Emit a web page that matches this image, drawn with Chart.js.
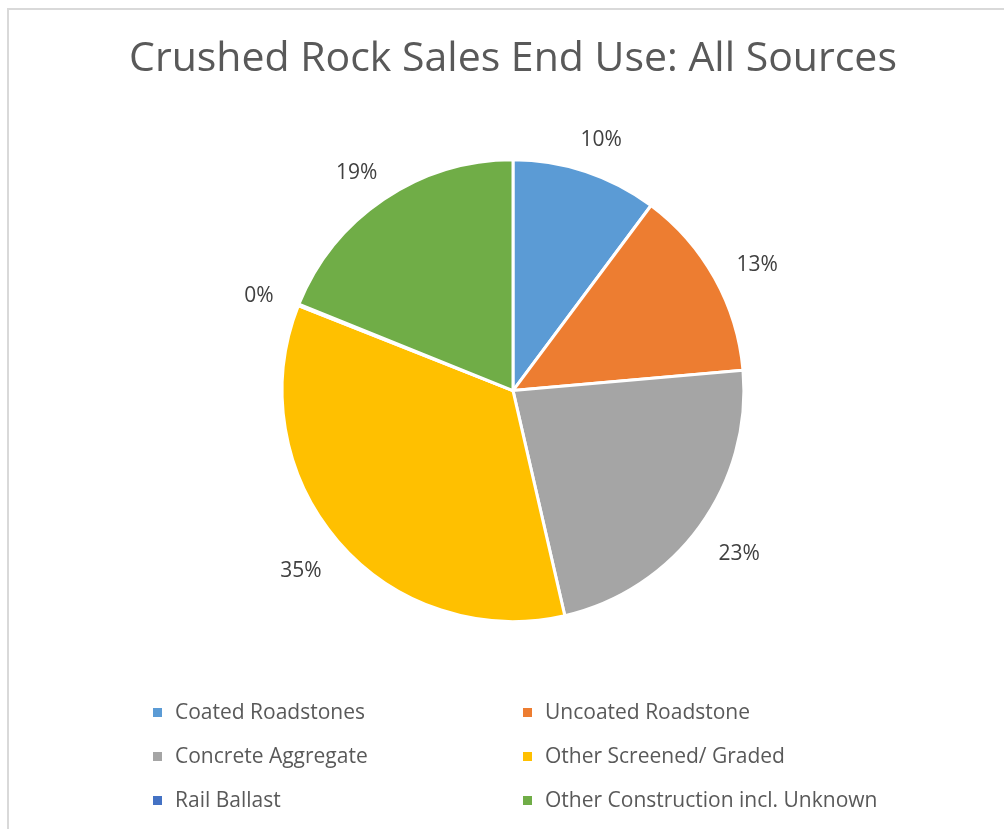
<!DOCTYPE html>
<html>
<head>
<meta charset="utf-8">
<script src="https://cdn.jsdelivr.net/npm/chart.js@4.4.1/dist/chart.umd.min.js"></script>
<style>
  html, body { margin: 0; padding: 0; background: #fff; }
  #wrap { width: 1004px; height: 829px; }
</style>
</head>
<body>
<div id="wrap"><canvas id="myChart" width="1004" height="829"></canvas></div>
<script>
const categories = ['Coated Roadstones', 'Uncoated Roadstone', 'Concrete Aggregate', 'Other Screened/ Graded', 'Rail Ballast', 'Other Construction incl. Unknown'];
const shares = [10.2, 13.4, 22.8, 34.6, 0.1, 18.9];
const colors = ['#5B9BD5', '#ED7D31', '#A5A5A5', '#FFC000', '#4472C4', '#70AD47'];

// frame line of the chart box (top + left edge only visible)
const frame = {
    id: 'frame',
    beforeDraw(chart) {
        const ctx = chart.ctx;
        ctx.save();
        ctx.strokeStyle = '#d9d9d9';
        ctx.lineWidth = 2;
        ctx.beginPath();
        ctx.moveTo(8, 900);
        ctx.lineTo(8, 9);
        ctx.lineTo(1010, 9);
        ctx.stroke();
        ctx.restore();
    }
};

// percent labels outside each slice, text box pushed out from the rim
const outLabels = {
    id: 'outLabels',
    afterDatasetsDraw(chart) {
        const ctx = chart.ctx;
        const meta = chart.getDatasetMeta(0);
        const total = shares.reduce((a, b) => a + b, 0);
        ctx.save();
        ctx.font = '21px "Open Sans", sans-serif';
        ctx.fillStyle = '#404040';
        ctx.textAlign = 'center';
        ctx.textBaseline = 'middle';
        meta.data.forEach((arc, i) => {
            const p = arc.getProps(['x', 'y', 'startAngle', 'endAngle', 'outerRadius'], true);
            const mid = (p.startAngle + p.endAngle) / 2;
            const cx = Math.cos(mid), cy = Math.sin(mid);
            const r = p.outerRadius + 28;
            const txt = Math.round(shares[i] / total * 100) + '%';
            const hw = ctx.measureText(txt).width / 2;
            ctx.fillText(txt, p.x + cx * r + cx * hw, p.y + cy * r + cy * 10 + 5);
        });
        ctx.restore();
    }
};

// two-column legend under the pie
const gridLegend = {
    id: 'gridLegend',
    afterDraw(chart) {
        const ctx = chart.ctx;
        const colX = [153, 523];
        const rowY = [713, 757, 801];
        ctx.save();
        ctx.font = '21px "Open Sans", sans-serif';
        ctx.textBaseline = 'middle';
        categories.forEach((name, i) => {
            const x = colX[i % 2];
            const y = rowY[Math.floor(i / 2)];
            ctx.fillStyle = colors[i];
            ctx.fillRect(x, y - 5, 9, 9);
            ctx.fillStyle = '#595959';
            ctx.fillText(name, x + 22, y);
        });
        ctx.restore();
    }
};

new Chart(document.getElementById('myChart'), {
    type: 'pie',
    data: {
        labels: categories,
        datasets: [{
            data: shares,
            backgroundColor: colors,
            borderColor: '#ffffff',
            borderWidth: 3,
        }],
    },
    options: {
        responsive: false,
        animation: false,
        layout: {
            padding: { left: 22, right: 0, top: 35, bottom: 206 },
        },
        plugins: {
            legend: { display: false },
            tooltip: { enabled: false },
            title: {
                display: true,
                text: 'Crushed Rock Sales End Use: All Sources',
                color: '#595959',
                font: { family: '"Open Sans", sans-serif', size: 41, weight: 'normal', lineHeight: 1.2 },
                padding: { top: 0, bottom: 74 },
            },
        },
    },
    plugins: [frame, outLabels, gridLegend],
});
</script>
</body>
</html>
